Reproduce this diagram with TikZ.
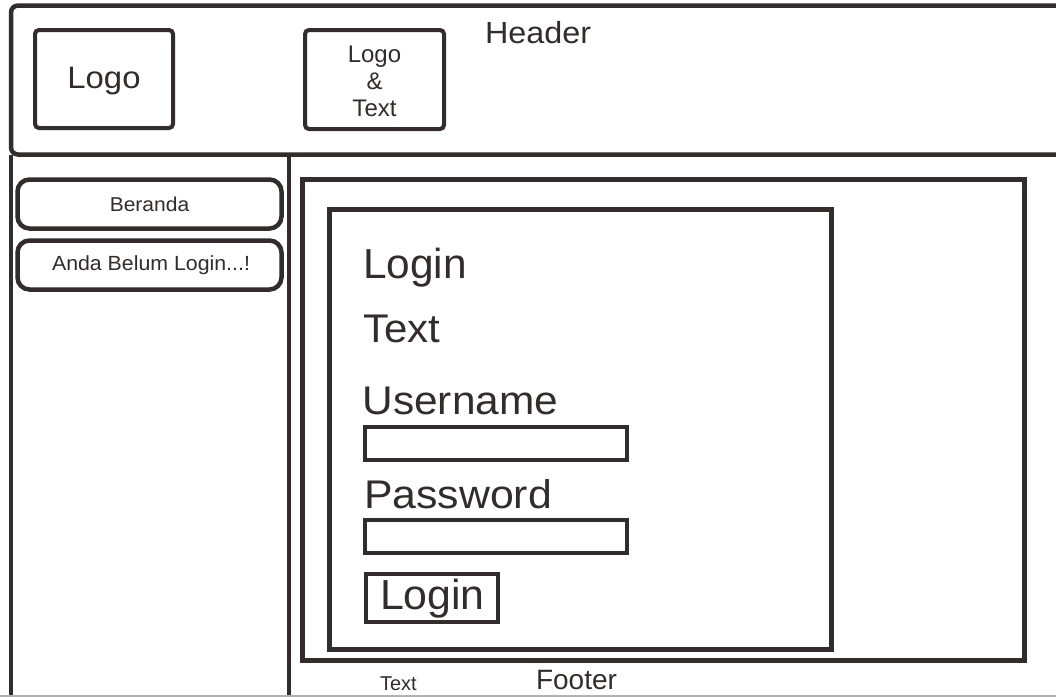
\documentclass[tikz,border=0pt]{standalone}
\usepackage{fontspec}
\setmainfont{Liberation Sans}
\definecolor{ink}{RGB}{50,44,43}
\tikzset{
  frame/.style={draw=ink, line width=4.5pt},
  box/.style={draw=ink, line width=4pt, rounded corners=4pt},
  navbox/.style={draw=ink, line width=4.5pt, rounded corners=12pt},
  field/.style={draw=ink, line width=4pt},
  txt/.style={text=ink, inner sep=0pt, outer sep=0pt},
}
\newcommand{\fs}[1]{\fontsize{#1}{#1}\selectfont}
\begin{document}
\begin{tikzpicture}[x=1pt,y=-1pt]
\useasboundingbox (0,0) rectangle (1056,697);
\fill[white] (0,0) rectangle (1056,697);
% header frame
\draw[frame, rounded corners=7pt] (1062,5.5) -- (11,5.5) -- (11,154.5) -- (1062,154.5);
% sidebar
\coordinate (sbtl) at (11,154.5);
\coordinate (sbbl) at (11,697);
\coordinate (sbtr) at (288.5,154.5);
\coordinate (sbbr) at (288.5,697);
\draw[frame] (sbtl) -- (sbbl);
\draw[frame, line width=4pt] (sbtr) -- (sbbr);
% bottom grey edge
\draw[gray!60, line width=1.5pt] (0,696.2) -- (1056,696.2);
% header boxes
\draw[box] (35,30) rectangle (173,128);
\node[txt, font=\fs{31}, anchor=base, xscale=1.06] (logo) at (104,88) {Logo};
\draw[box] (305,30) rectangle (444,129);
\node[txt, font=\fs{24}, anchor=base] (lt1) at (374.5,62) {Logo};
\node[txt, font=\fs{24}, anchor=base] (lt2) at (374.5,89) {\&};
\node[txt, font=\fs{24}, anchor=base] (lt3) at (374.5,116) {Text};
\node[txt, font=\fs{30.5}, anchor=base west, xscale=1.06] (header) at (485,43) {Header};
% sidebar buttons
\draw[navbox] (17.5,179.5) rectangle (281.5,228.5);
\node[txt, font=\fs{20}, anchor=base, xscale=1.05] (beranda) at (149.5,211) {Beranda};
\draw[navbox] (17.5,240.5) rectangle (281.5,289.5);
\node[txt, font=\fs{20.5}, anchor=base, xscale=1.04] (anda) at (151,270) {Anda Belum Login...!};
% content
\draw[frame, line width=5pt] (302.5,179.5) rectangle (1024.5,660);
\draw[frame, line width=5pt] (329.5,209) rectangle (831,649.5);
\node[txt, font=\fs{42}, anchor=base west, xscale=1.01] (logintitle) at (363,278) {Login};
\node[txt, font=\fs{40}, anchor=base west, xscale=1.05] (logintext) at (363.5,342) {Text};
\node[txt, font=\fs{40}, anchor=base west, xscale=1.06] (user) at (362.5,414) {Username};
\draw[field] (365,427) rectangle (627,460);
\node[txt, font=\fs{40}, anchor=base west, xscale=1.07] (pass) at (364,508) {Password};
\draw[field] (365,520) rectangle (627,553);
\draw[field] (366,574) rectangle (498,622);
\node[txt, font=\fs{42}, anchor=base west, xscale=1.02] (btn) at (380,609) {Login};
% footer
\node[txt, font=\fs{20}, anchor=base west] (ftext) at (380,690) {Text};
\node[txt, font=\fs{28}, anchor=base west] (footer) at (536,689) {Footer};
\end{tikzpicture}
\end{document}
